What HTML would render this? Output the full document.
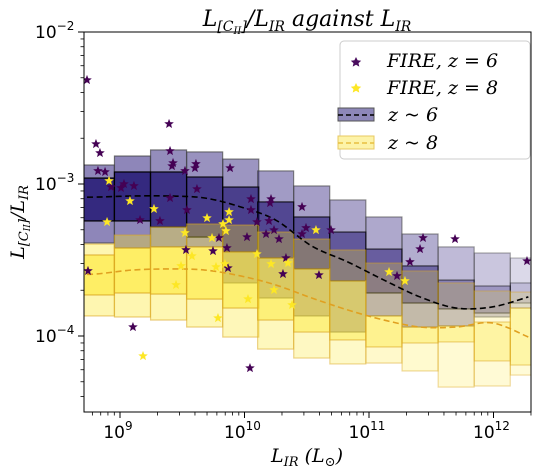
<!DOCTYPE html>
<html><head><meta charset="utf-8"><style>
body{margin:0;background:#fff;}
svg{display:block;font-family:"DejaVu Sans","Liberation Sans",sans-serif;}
.it{font-family:"DejaVu Serif","Liberation Serif",serif;font-style:italic;}
</style></head><body>
<svg id="chart" width="537" height="473" viewBox="0 0 537 473">
<defs><clipPath id="clip"><rect x="84" y="32" width="447" height="380"/></clipPath></defs>
<rect width="537" height="473" fill="#fff"/>
<g id="plot" clip-path="url(#clip)"></g>
<rect x="84" y="32" width="447" height="380" fill="none" stroke="#000" stroke-width="1"/>
<g id="axes"></g>
<text x="307" y="26" text-anchor="middle" class="it" font-size="22">L<tspan font-size="14" dy="5">[C<tspan font-size="10" dy="3">II</tspan><tspan dy="-3">]</tspan></tspan><tspan dy="-5">/L</tspan><tspan font-size="14" dy="5">IR</tspan><tspan dy="-5"> against L</tspan><tspan font-size="14" dy="5">IR</tspan></text>
<text x="307" y="462" text-anchor="middle" class="it" font-size="19">L<tspan font-size="13" dy="4">IR</tspan><tspan dy="-4"> (L</tspan><tspan font-size="13" dy="4">⊙</tspan><tspan dy="-4">)</tspan></text>
<text transform="translate(24,222) rotate(-90)" text-anchor="middle" class="it" font-size="19">L<tspan font-size="13" dy="4">[C<tspan font-size="9" dy="2">II</tspan><tspan dy="-2">]</tspan></tspan><tspan dy="-4">/L</tspan><tspan font-size="13" dy="4">IR</tspan></text>
<g>
<rect x="340" y="41" width="190" height="118" rx="4" fill="#fff" fill-opacity="0.85" stroke="#ccc"/>
<path d="M356,57 l1.6,3.3 3.6,.4 -2.7,2.4 .8,3.5 -3.3,-1.8 -3.3,1.8 .8,-3.5 -2.7,-2.4 3.6,-.4z" fill="#4a0d5e"/>
<text x="387" y="67" class="it" font-size="19">FIRE,  z  =  6</text>
<path d="M356,83 l1.6,3.3 3.6,.4 -2.7,2.4 .8,3.5 -3.3,-1.8 -3.3,1.8 .8,-3.5 -2.7,-2.4 3.6,-.4z" fill="#fde725"/>
<text x="387" y="94" class="it" font-size="19">FIRE,  z  =  8</text>
<rect x="338" y="108" width="36" height="13" fill="#8d87b9" stroke="#555"/>
<line x1="338" y1="115" x2="374" y2="115" stroke="#000" stroke-width="1.5" stroke-dasharray="5,3"/>
<text x="388" y="121" class="it" font-size="19">z  ~ 6</text>
<rect x="338" y="136" width="36" height="13" fill="#fdf3a8" stroke="#e8c860"/>
<line x1="338" y1="143" x2="374" y2="143" stroke="#e8c040" stroke-width="1.5" stroke-dasharray="5,3"/>
<text x="388" y="149" class="it" font-size="19">z  ~ 8</text>
</g>
</svg>
<script>
// ---- data (log10 values) ----
const binCenters = [8.81,9.10,9.39,9.68,9.97,10.25,10.54,10.83,11.12,11.41,11.70,11.99,12.28];
const binWidth = 0.289;
const z6p84 = [-2.875,-2.816,-2.776,-2.789,-2.836,-2.914,-3.013,-3.105,-3.217,-3.329,-3.414,-3.454,-3.487];
const z6p75 = [-2.961,-2.921,-2.921,-2.954,-3.020,-3.118,-3.217,-3.316,-3.428,-3.539,-3.632,-3.671,-3.651];
const z6p25 = [-3.243,-3.243,-3.283,-3.349,-3.447,-3.487,-3.559,-3.638,-3.717,-3.783,-3.822,-3.849,-3.783];
const z6p16 = [-3.388,-3.421,-3.414,-3.414,-3.651,-3.750,-3.868,-3.974,-3.868,-3.941,-3.934,-3.875,-3.816];
const z8p84 = [-3.395,-3.336,-3.283,-3.263,-3.270,-3.316,-3.362,-3.434,-3.520,-3.572,-3.651,-3.704,-3.711];
const z8p75 = [-3.467,-3.421,-3.414,-3.414,-3.447,-3.487,-3.559,-3.638,-3.868,-3.941,-3.934,-3.908,-3.816];
const z8p25 = [-3.730,-3.717,-3.724,-3.757,-3.816,-3.895,-3.974,-4.026,-4.072,-4.046,-4.039,-4.164,-4.191];
const z8p16 = [-3.868,-3.875,-3.895,-3.941,-4.007,-4.086,-4.145,-4.184,-4.178,-4.230,-4.336,-4.329,-4.257];
const z6weight = [1,1,0.95,0.9,0.87,0.83,0.8,0.75,0.72,0.68,0.57,0.47,0.32];
const z8weight = [0.9,0.9,0.88,0.85,0.8,0.75,0.7,0.65,0.6,0.55,0.5,0.48,0.45];
const z6median = [-3.086,-3.079,-3.079,-3.092,-3.151,-3.237,-3.408,-3.513,-3.632,-3.743,-3.816,-3.809,-3.743];
const z8median = [-3.592,-3.566,-3.559,-3.566,-3.605,-3.664,-3.750,-3.829,-3.895,-3.941,-3.941,-3.914,-4.007];
const fire6L = [8.735,8.807,8.839,8.823,8.880,8.928,9.008,9.032,9.112,9.161,8.743,9.104,9.394,9.402,9.426,9.418,9.402,9.321,9.610,9.602,9.522,9.618,9.538,9.795,9.530,9.747,9.884,10.052,10.052,10.100,10.020,9.859,9.867,10.197,10.205,10.213,10.237,10.173,10.277,10.333,10.309,10.462,10.494,10.462,10.044,10.695,10.598,11.434,11.410,11.329,11.691,11.225,12.269];
const fire6R = [-2.316,-2.737,-2.796,-2.914,-2.921,-3.020,-3.026,-3.000,-3.013,-3.237,-3.572,-3.941,-2.605,-2.783,-2.862,-2.882,-3.092,-3.243,-2.868,-2.895,-2.914,-3.033,-3.171,-3.355,-3.434,-3.441,-2.895,-3.099,-3.171,-3.250,-3.349,-3.421,-3.553,-3.243,-3.125,-3.099,-3.303,-3.329,-3.362,-3.487,-3.592,-3.151,-3.289,-3.329,-4.211,-3.303,-3.599,-3.355,-3.428,-3.513,-3.362,-3.605,-3.507];
const fire8L = [8.912,9.080,8.896,9.273,9.699,9.876,9.876,9.827,9.851,9.522,9.739,9.578,9.490,9.450,9.771,9.843,10.100,10.213,10.349,10.237,10.028,9.787,10.382,9.185,10.574,11.161,11.289];
const fire8R = [-2.980,-3.112,-3.250,-3.164,-3.224,-3.184,-3.237,-3.263,-3.309,-3.322,-3.355,-3.474,-3.539,-3.664,-3.546,-3.526,-3.461,-3.526,-3.520,-3.697,-3.757,-3.882,-3.796,-4.132,-3.303,-3.579,-3.638];
const xTicks = [9,10,11,12];
const xTickLabels = ['9','10','11','12'];
const yTicks = [-2,-3,-4];
const yTickLabels = ['−2','−3','−4'];

const NS='http://www.w3.org/2000/svg';
const X = l => 120 + (l-9)*124.5;
const Y = r => 32 + (-2-r)*152;
const plot = document.getElementById('plot');
const axes = document.getElementById('axes');
function mk(tag, attrs, parent){const e=document.createElementNS(NS,tag);for(const k in attrs)e.setAttribute(k,attrs[k]);parent.appendChild(e);return e;}

function boxes(lo,hi,fill,stroke,alpha,name){
  binCenters.forEach((c,i)=>{
    const x0=X(c-binWidth/2), x1=X(c+binWidth/2);
    const r=mk('rect',{x:x0,y:Y(hi[i]),width:x1-x0,height:Y(lo[i])-Y(hi[i]),fill:fill,'fill-opacity':alpha[i],stroke:stroke,'stroke-opacity':Math.min(1,alpha[i]+0.2),'stroke-width':1.2},plot);
    
    
  });
}
const a6o=z6weight.map(w=>w*0.53), a6i=z6weight.map(w=>0.8*Math.pow(w,1.5));
const a8o=z8weight.map(w=>w*0.4), a8i=z8weight.map(w=>w*0.6);
boxes(z6p16,z6p84,'#2a1b7a','#444',a6o,'z6-outer-box');
boxes(z6p25,z6p75,'#1e1170','#000',a6i,'z6-inner-box');
boxes(z8p16,z8p84,'#fde725','#d9a520',a8o,'z8-outer-box');
boxes(z8p25,z8p75,'#fde725','#d9a520',a8i,'z8-inner-box');

function median(arr,color,name){
  const pts=[[X(8.66),Y(arr[0])]].concat(binCenters.map((c,i)=>[X(c),Y(arr[i])]));
  let d='M'+pts[0][0]+','+pts[0][1];
  for(let i=1;i<pts.length;i++){
    const p0=pts[Math.max(0,i-2)],p1=pts[i-1],p2=pts[i],p3=pts[Math.min(pts.length-1,i+1)];
    d+=' C'+(p1[0]+(p2[0]-p0[0])/6)+','+(p1[1]+(p2[1]-p0[1])/6)+' '+(p2[0]-(p3[0]-p1[0])/6)+','+(p2[1]-(p3[1]-p1[1])/6)+' '+p2[0]+','+p2[1];
  }
  const e=mk('path',{d:d,fill:'none',stroke:color,'stroke-width':1.6,'stroke-dasharray':'6,3.5'},plot);
  
  
}
median(z6median,'#000','z6-median-line');
median(z8median,'#e0a020','z8-median-line');

function star(cx,cy,s,fill){
  let d='';
  for(let k=0;k<10;k++){const a=-Math.PI/2+k*Math.PI/5, rr=k%2?s*0.42:s;d+=(k?'L':'M')+(cx+rr*Math.cos(a)).toFixed(2)+','+(cy+rr*Math.sin(a)).toFixed(2);}
  return mk('path',{d:d+'Z',fill:fill,stroke:fill,'stroke-width':0.4},plot);
}
fire6L.forEach((l,i)=>{const e=star(X(l),Y(fire6R[i]),4.6,'#440154');
  
  });
fire8L.forEach((l,i)=>{const e=star(X(l),Y(fire8R[i]),4.6,'#fde725');
  
  });

xTicks.forEach((t,i)=>{
  mk('line',{x1:X(t),y1:412,x2:X(t),y2:418,stroke:'#000'},axes);
  const tx=mk('text',{x:X(t)-2,y:438,'text-anchor':'middle','font-size':17},axes);
  tx.innerHTML='10<tspan font-size="12" dy="-8">'+xTickLabels[i]+'</tspan>';
  
  
});
for(let dec=8;dec<=12;dec++)for(let m=2;m<=9;m++){const l=dec+Math.log10(m);const x=X(l);if(x>84&&x<531)mk('line',{x1:x,y1:412,x2:x,y2:415.5,stroke:'#000','stroke-width':0.8},axes);}
yTicks.forEach((t,i)=>{
  mk('line',{x1:78,y1:Y(t),x2:84,y2:Y(t),stroke:'#000'},axes);
  const tx=mk('text',{x:35,y:Y(t)+6,'font-size':17},axes);
  tx.innerHTML='10<tspan font-size="12" dy="-8">'+yTickLabels[i]+'</tspan>';
  
  
});
for(let dec=-5;dec<=-3;dec++)for(let m=2;m<=9;m++){const r=dec+Math.log10(m);const y=Y(r);if(y>32&&y<412)mk('line',{x1:80.5,y1:y,x2:84,y2:y,stroke:'#000','stroke-width':0.8},axes);}
</script>
</body></html>
